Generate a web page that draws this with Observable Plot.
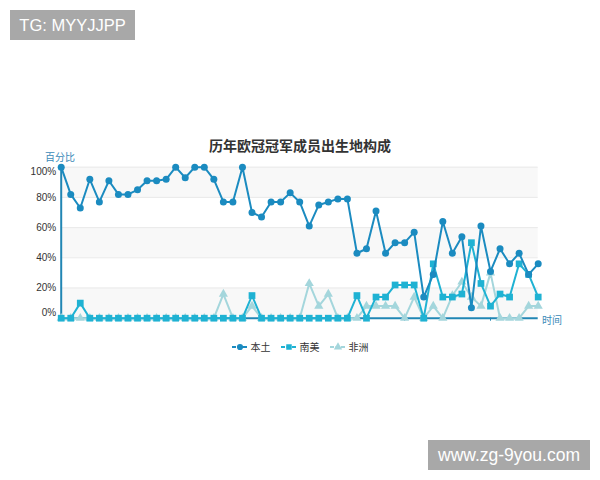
<!DOCTYPE html>
<html>
<head>
<meta charset="utf-8">
<script src="https://cdn.jsdelivr.net/npm/d3@7"></script>
<script src="https://cdn.jsdelivr.net/npm/@observablehq/plot@0.6"></script>
<style>
  html, body { margin: 0; padding: 0; background: #fff; }
  body { font-family: "Liberation Sans", "Noto Sans CJK SC", sans-serif; }
  #wrap { position: relative; width: 600px; height: 480px; overflow: hidden; }
  #chart { position: absolute; left: 0; top: 0; }
  .abs { position: absolute; white-space: nowrap; }
  .wm { background: #a8a8a8; color: #fff; line-height: 30px; height: 30px; text-align: center; }
  #title { left: 0; width: 600px; text-align: center; top: 135px; font-size: 14px; font-weight: bold; color: #333; }
  .axlab { color: #3a8ab8; font-size: 10px; }
  #legend { left: 0; width: 600px; top: 339px; display: flex; justify-content: center; gap: 10px; font-size: 10px; color: #333; align-items: center; }
  #legend .item { display: flex; align-items: center; gap: 3px; }
</style>
</head>
<body>
<div id="wrap">
  <div id="chart"></div>
  <div class="abs wm" style="left:10px;top:10px;width:125px;font-size:16.5px;">TG: MYYJJPP</div>
  <div class="abs wm" style="left:428px;top:440px;width:162px;font-size:17.5px;">www.zg-9you.com</div>
  <div class="abs" id="title">历年欧冠冠军成员出生地构成</div>
  <div class="abs axlab" style="left:45px;top:149px;">百分比</div>
  <div class="abs axlab" style="left:542px;top:312px;">时间</div>
  <div class="abs" id="legend"></div>
</div>
<script>
// Series (percent of squad by birthplace), 51 seasons
const seriesNames = ["本土", "南美", "非洲"];
const seriesColors = ["#1b8bc0", "#1fb2d3", "#a4d6dc"];
const local = [100, 82, 73, 92, 77, 91, 82, 82, 85, 91, 91, 92, 100, 93, 100, 100, 92, 77, 77, 100,
  70, 67, 77, 77, 83, 77, 61, 75, 77, 79, 79, 43, 46, 71, 43, 50, 50, 57, 14, 29,
  64, 43, 54, 7, 61, 31, 46, 36, 43, 29, 36];
const southAmerica = [0, 0, 10, 0, 0, 0, 0, 0, 0, 0, 0, 0, 0, 0, 0, 0, 0, 0, 0, 0,
  15, 0, 0, 0, 0, 0, 0, 0, 0, 0, 0, 15, 0, 14, 14, 22, 22, 22, 0, 36,
  14, 14, 16, 50, 23, 8, 16, 14, 36, 29, 14];
const africa = [0, 0, 0, 0, 0, 0, 0, 0, 0, 0, 0, 0, 0, 0, 0, 0, 0, 16, 0, 0,
  8, 0, 0, 0, 0, 0, 23, 8, 16, 0, 0, 0, 8, 8, 8, 8, 0, 14, 0, 8,
  0, 15, 24, 14, 8, 30, 0, 0, 0, 8, 8];
const yTicks = [0, 20, 40, 60, 80, 100];
const xTicks = [9, 18, 27, 36, 45];
const bands = [{y1: 0, y2: 20}, {y1: 40, y2: 60}, {y1: 80, y2: 100}];

const toRows = arr => arr.map((v, i) => ({i, v}));
const dLocal = toRows(local), dSA = toRows(southAmerica), dAf = toRows(africa);
const axisColor = "#2186b4";
const fmt = d => d + "%";

const plot = Plot.plot({
  width: 600,
  height: 480,
  marginLeft: 60.7,
  marginRight: 62.3,
  marginTop: 166.7,
  marginBottom: 162.3,
  x: {type: "linear", domain: [0, local.length - 1]},
  y: {domain: [0, 100]},
  style: {fontFamily: "'Liberation Sans', 'Noto Sans CJK SC', sans-serif", background: "transparent"},
  marks: [
    Plot.rect(bands, {y1: "y1", y2: "y2", fill: "#f8f8f8"}),
    Plot.ruleY(yTicks.filter(t => t > 0), {stroke: "#e9e9e9"}),
    Plot.axisY({ticks: yTicks.filter(t => t > 0 && t < 100), tickFormat: fmt, tickSize: 0, tickPadding: 5, fontSize: 10, fill: "#333", label: null}),
    Plot.axisY({ticks: [100], tickFormat: fmt, tickSize: 0, tickPadding: 5, fontSize: 10, fill: "#333", label: null, dy: 5}),
    Plot.axisY({ticks: [0], tickFormat: fmt, tickSize: 0, tickPadding: 5, fontSize: 10, fill: "#333", label: null, dy: -5}),
    Plot.axisX({ticks: xTicks, tickFormat: () => "", tickSize: 3, stroke: axisColor, label: null}),
    Plot.ruleX([0], {y1: 0, y2: 100, stroke: axisColor, strokeWidth: 2}),
    Plot.ruleY([0], {stroke: axisColor, strokeWidth: 2}),
    Plot.line(dAf, {x: "i", y: "v", stroke: seriesColors[2], strokeWidth: 2}),
    Plot.dot(dAf, {x: "i", y: "v", symbol: "triangle", r: 3.4, fill: seriesColors[2]}),
    Plot.line(dSA, {x: "i", y: "v", stroke: seriesColors[1], strokeWidth: 2}),
    Plot.dot(dSA, {x: "i", y: "v", symbol: "square", r: 3.8, fill: seriesColors[1]}),
    Plot.line(dLocal, {x: "i", y: "v", stroke: seriesColors[0], strokeWidth: 2}),
    Plot.dot(dLocal, {x: "i", y: "v", symbol: "circle", r: 3.5, fill: seriesColors[0]})
  ]
});
document.getElementById("chart").appendChild(plot);

// Legend
const legend = d3.select("#legend");
seriesNames.forEach((name, k) => {
  const item = legend.append("div").attr("class", "item");
  const svg = item.append("svg").attr("width", 16).attr("height", 10);
  svg.append("line").attr("x1", 0).attr("x2", 16).attr("y1", 5).attr("y2", 5)
    .attr("stroke", seriesColors[k]).attr("stroke-width", 2).attr("stroke-dasharray", "4,1.5");
  svg.append("path").attr("transform", "translate(8,5)")
    .attr("d", d3.symbol(k === 0 ? d3.symbolCircle : k === 1 ? d3.symbolSquare : d3.symbolTriangle, 30)())
    .attr("fill", seriesColors[k]);
  item.append("span").text(name);
});
</script>
</body>
</html>
